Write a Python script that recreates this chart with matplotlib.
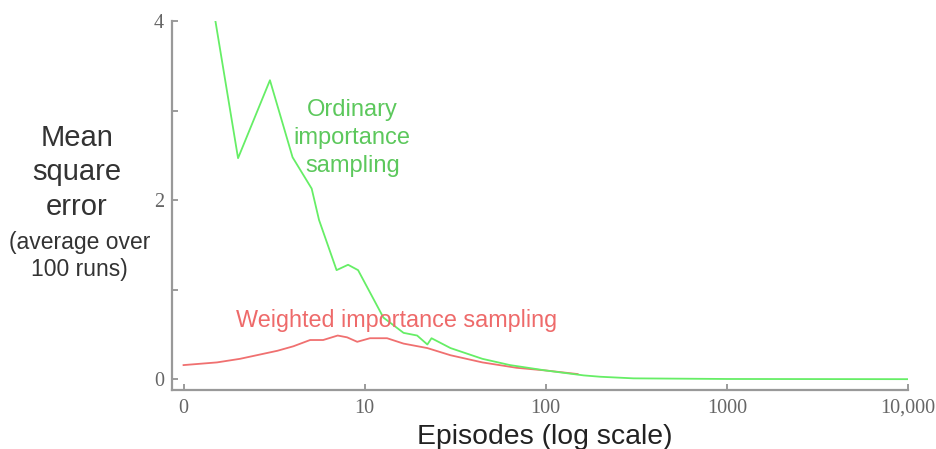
import numpy as np
import matplotlib.pyplot as plt

# curvas (episodios, error cuadratico medio)
ord_x = [1.5, 2.0, 3.0, 4.0, 5.1, 5.6, 7.0, 8.1, 9.2, 12.7, 16.4, 19.5, 22.2, 23.4,
         29.8, 44.7, 63.5, 100, 162, 200, 305, 1000, 10000]
ord_y = [4.0, 2.47, 3.34, 2.48, 2.13, 1.78, 1.22, 1.28, 1.22, 0.69, 0.52, 0.49, 0.39, 0.46,
         0.35, 0.23, 0.16, 0.10, 0.045, 0.03, 0.012, 0.005, 0.003]

wis_x = [1.0, 1.53, 2.05, 3.3, 4.04, 5.0, 5.9, 7.1, 8.0, 9.1, 10.7, 13.3, 16.4,
         22.2, 29.8, 44.7, 69, 100, 150]
wis_y = [0.16, 0.19, 0.23, 0.32, 0.37, 0.44, 0.44, 0.49, 0.47, 0.42, 0.46, 0.46, 0.40,
         0.35, 0.27, 0.19, 0.13, 0.10, 0.06]

xticks = [1, 10, 100, 1000, 10000]
xtick_labels = ['0', '10', '100', '1000', '10,000']
yticks = [0, 2, 4]

green_line = '#66ee66'
green_text = '#5cc85c'
red_line = '#f07070'
red_text = '#ee6a6a'
gris = '#8a8a8a'

fig = plt.figure(figsize=(9.36, 4.49), dpi=100)
ax = fig.add_axes([0.184, 0.131, 0.786, 0.822])

ax.plot(wis_x, wis_y, color=red_line, lw=1.3)
ax.plot(ord_x, ord_y, color=green_line, lw=1.3, clip_on=True)

ax.set_xscale('log')
ax.set_xlim(0.866, 10000)
ax.set_ylim(-0.12, 4.0)

ax.set_xticks(xticks)
ax.set_xticklabels(xtick_labels)
ax.xaxis.set_minor_locator(plt.NullLocator())
ax.set_yticks(yticks)
ax.set_yticks([1, 3], minor=True)

for s in ['top', 'right']:
    ax.spines[s].set_visible(False)
for s in ['left', 'bottom']:
    ax.spines[s].set_color('#999999')
    ax.spines[s].set_linewidth(1.6)

ax.tick_params(axis='both', which='both', direction='in', length=4, width=1.2,
               color=gris, labelcolor='#666666', labelsize=14.5, pad=6)
for lab in ax.get_xticklabels() + ax.get_yticklabels():
    lab.set_fontfamily('Liberation Serif')

ax.text(8.55, 2.70, 'Ordinary\nimportance\nsampling', color=green_text, fontsize=17,
        family='Liberation Sans', ha='center', va='center', linespacing=1.35)
ax.text(15.0, 0.66, 'Weighted importance sampling', color=red_text, fontsize=16.8,
        family='Liberation Sans', ha='center', va='center')

fig.text(0.082, 0.616, 'Mean\nsquare\nerror', color='#333333', fontsize=21,
         family='Liberation Sans', ha='center', va='center', linespacing=1.28)
fig.text(0.085, 0.430, '(average over\n100 runs)', color='#333333', fontsize=16.5,
         family='Liberation Sans', ha='center', va='center', linespacing=1.2)

fig.text(0.582, 0.027, 'Episodes (log scale)', color='#222222', fontsize=20.4,
         family='Liberation Sans', ha='center', va='center')

fig.savefig('out.png', dpi=100)
